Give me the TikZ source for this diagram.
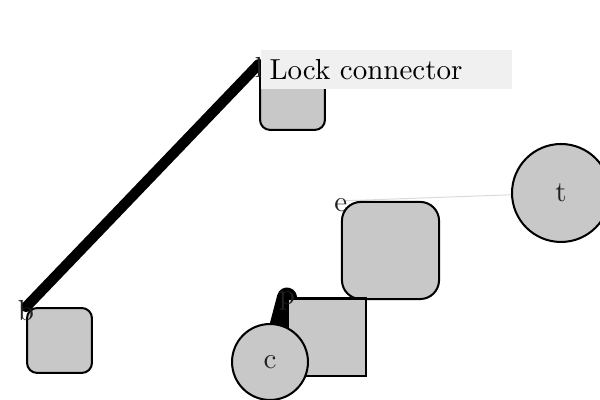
\documentclass[tikz,border=0pt]{standalone}
\usetikzlibrary{backgrounds}
\definecolor{nodefill}{RGB}{200,200,200}
\definecolor{tagfill}{RGB}{240,240,240}
\definecolor{txt}{RGB}{34,34,34}
\tikzset{
  sq/.style={draw=black, line width=0.7pt, fill=nodefill, rounded corners=#1, inner sep=0pt},
  box/.style={draw=black, line width=0.7pt, fill=nodefill, inner sep=0pt},
  circ/.style={draw=black, line width=0.7pt, fill=nodefill, circle, inner sep=0pt, text=txt},
  cornertag/.style={label={[anchor=center, text=txt, inner sep=0pt, yshift=-1.3pt]north west:#1}},
  heavy/.style={line width=#1, line cap=round, draw=black},
  faint/.style={line width=0.35pt, draw=black!14},
}
\begin{document}
\begin{tikzpicture}[x=0.345pt, y=-0.345pt]
\useasboundingbox (0,0) rectangle (600,400);
\node[sq=3.5pt, minimum size=22.4pt, cornertag=l] (l) at (292.5,97.5) {};
\node[sq=3.5pt, minimum size=22.4pt, cornertag=b] (b) at (59.5,340.5) {};
\node[sq=6.5pt, minimum size=33.5pt, cornertag=e] (e) at (390.5,250.5) {};
\node[box, minimum size=26.9pt, cornertag=p] (p) at (327,337.5) {};
\node[circ, minimum size=26.2pt] (c) at (270,362) {c};
\node[circ, minimum size=33.8pt] (t) at (561,193) {t};
\begin{scope}[on background layer]
\draw[heavy=3.6pt] (l.north west) -- (b.north west);
\draw[faint] (e.north west) -- (t);
\draw[heavy=6.9pt] (p.north west) -- (c.center);
\end{scope}
\node[anchor=west, fill=tagfill, minimum height=13.45pt, text width=80.5pt, inner xsep=3.1pt, align=left, text=black] (tag) at (260,69.5) {Lock connector};
\end{tikzpicture}
\end{document}
